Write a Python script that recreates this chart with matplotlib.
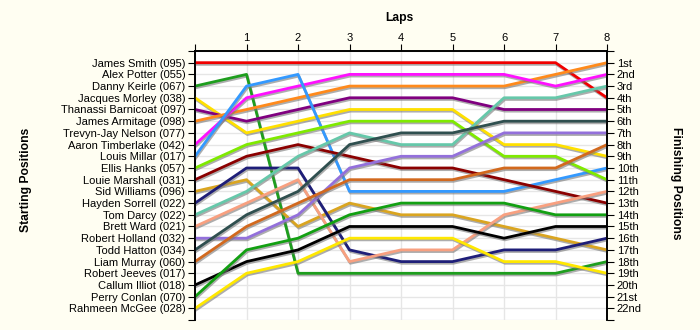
import matplotlib
matplotlib.use("Agg")
import matplotlib.pyplot as plt
import matplotlib.patheffects as pe

plt.rcParams['font.family'] = ['Liberation Sans', 'DejaVu Sans']

laps = [0, 1, 2, 3, 4, 5, 6, 7, 8]

start_labels = ['James Smith (095)', 'Alex Potter (055)', 'Danny Keirle (067)',
                'Jacques Morley (038)', 'Thanassi Barnicoat (097)',
                'James Armitage (098)', 'Trevyn-Jay Nelson (077)',
                'Aaron Timberlake (042)', 'Louis Millar (017)', 'Ellis Hanks (057)',
                'Louie Marshall (031)', 'Sid Williams (096)', 'Hayden Sorrell (022)',
                'Tom Darcy (022)', 'Brett Ward (021)', 'Robert Holland (032)',
                'Todd Hatton (034)', 'Liam Murray (060)', 'Robert Jeeves (017)',
                'Callum Illiot (018)', 'Perry Conlan (070)', 'Rahmeen McGee (028)']

finish_labels = ['1st', '2nd', '3rd', '4th', '5th', '6th', '7th', '8th', '9th',
                 '10th', '11th', '12th', '13th', '14th', '15th', '16th', '17th',
                 '18th', '19th', '20th', '21st', '22nd']

# position after each lap (lap 0 = starting grid)
ranks = [
    [1, 1, 1, 1, 1, 1, 1, 1, 4],          # James Smith
    [3, 2, 19, 19, 19, 19, 19, 19, 18],   # Danny Keirle
    [4, 7, 6, 5, 5, 5, 8, 8, 9],          # Jacques Morley
    [5, 6, 5, 4, 4, 4, 5, 5, 5],          # Thanassi Barnicoat
    [6, 5, 4, 3, 3, 3, 3, 2, 1],          # James Armitage
    [8, 4, 3, 2, 2, 2, 2, 3, 2],          # Aaron Timberlake
    [9, 3, 2, 12, 12, 12, 12, 11, 10],    # Louis Millar
    [10, 8, 7, 6, 6, 6, 9, 9, 11],        # Ellis Hanks
    [11, 9, 8, 9, 10, 10, 11, 12, 13],    # Louie Marshall
    [12, 11, 15, 13, 14, 14, 15, 16, 17], # Sid Williams
    [13, 10, 10, 17, 18, 18, 17, 17, 16], # Hayden Sorrell
    [14, 12, 9, 7, 8, 8, 4, 4, 3],        # Tom Darcy
    [15, 13, 11, 18, 17, 17, 14, 13, 12], # Brett Ward
    [16, 16, 14, 10, 9, 9, 7, 7, 7],      # Robert Holland
    [17, 14, 12, 8, 7, 7, 6, 6, 6],       # Todd Hatton
    [18, 15, 13, 11, 11, 11, 10, 10, 8],  # Liam Murray
    [20, 18, 17, 15, 15, 15, 16, 15, 15], # Callum Illiot
    [21, 17, 16, 14, 13, 13, 13, 14, 14], # Perry Conlan
    [22, 19, 18, 16, 16, 16, 18, 18, 19], # Rahmeen McGee
]

line_colors = ['#F00000', '#1E9E1E', '#FFE000', '#800080', '#FF8A1C', '#FF10FF',
               '#3399FF', '#7FEA00', '#8B0000', '#DAA520', '#1E1E78', '#66C8AA',
               '#F8A080', '#9370DB', '#2F4F4F', '#D2691E', '#000000', '#12A012',
               '#FFE800']

fig = plt.figure(figsize=(7, 3.3), dpi=100, facecolor='#FFFEF2')
ax = fig.add_axes([0.2786, 0.03, 0.5886, 0.8155])
ax.set_facecolor('white')

shadow = [pe.SimpleLineShadow(offset=(0.6, -1.2), shadow_color='#777777', alpha=0.6),
          pe.Normal()]
for r, c in zip(ranks, line_colors):
    ax.plot(laps, r, color=c, lw=2, path_effects=shadow, zorder=3)

ax.set_xlim(0, 8)
ax.set_ylim(23, 0)
ax.grid(True, color='#E6E6E6', lw=1, zorder=0)
ax.set_axisbelow(True)

ax.xaxis.tick_top()
ax.set_xticks(laps)
ax.set_xticklabels([''] + [str(l) for l in laps[1:]], fontsize=8)
ax.tick_params(axis='x', direction='out', length=5, pad=1)

ax.set_yticks(range(0, 24))
ax.set_yticklabels([''] + start_labels + [''], fontsize=8)
ax.tick_params(axis='y', direction='out', length=5, pad=2)

ax2 = ax.twinx()
ax2.set_ylim(23, 0)
ax2.set_yticks(range(0, 24))
ax2.set_yticklabels([''] + finish_labels + [''], fontsize=8)
ax2.tick_params(axis='y', direction='out', length=5, pad=2)

for a in (ax, ax2):
    a.spines['bottom'].set_visible(False)
    for s in ('top', 'left', 'right'):
        a.spines[s].set_linewidth(1.2)

fig.text(0.571, 0.945, 'Laps', ha='center', va='center', fontsize=8.7, fontweight='bold')
fig.text(0.037, 0.4545, 'Starting Positions', ha='center', va='center', rotation=90,
         fontsize=8.7, fontweight='bold')
fig.text(0.966, 0.445, 'Finishing Positions', ha='center', va='center', rotation=-90,
         fontsize=8.7, fontweight='bold')

fig.savefig('out.png', dpi=100, facecolor=fig.get_facecolor())
